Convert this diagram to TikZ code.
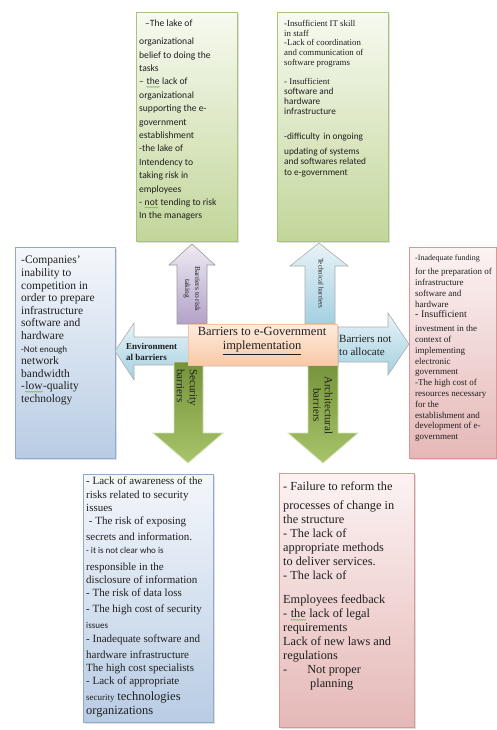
\documentclass[tikz,border=0pt]{standalone}
\usepackage{fontspec}
\setmainfont{Liberation Serif}
\newfontfamily\carl{Carlito}
\usetikzlibrary{shadows,decorations.pathmorphing}

\definecolor{ink}{HTML}{1F1F1F}
\definecolor{gbd}{HTML}{A9C47A}
\definecolor{gbt}{HTML}{F7FAF0}
\definecolor{gbb}{HTML}{C2D69A}
\definecolor{bbd}{HTML}{8EAACC}
\definecolor{bbt}{HTML}{F4F7FB}
\definecolor{bbb}{HTML}{B8CCE4}
\definecolor{pbd}{HTML}{D99694}
\definecolor{pbt}{HTML}{FCF3F3}
\definecolor{pbb}{HTML}{E5B8B7}
\definecolor{cbd}{HTML}{F2C6A4}
\definecolor{cbt}{HTML}{FDEBDD}
\definecolor{cbb}{HTML}{F9C9A6}
\definecolor{pat}{HTML}{EEEAF4}
\definecolor{pab}{HTML}{B3A2C7}
\definecolor{lat}{HTML}{E8F3F8}
\definecolor{lab}{HTML}{A3D0E0}
\definecolor{gat}{HTML}{75933A}
\definecolor{gab}{HTML}{A8C46A}
\definecolor{aedge}{HTML}{9A9A9A}
\definecolor{squig}{HTML}{6FAE4A}

% wavy green proofing underline
\newcommand\sqw[1]{\tikz[baseline=(w.base)]{\node[inner sep=0pt,text=ink](w){#1};
  \draw[squig, line width=0.4pt, decorate, decoration={snake, amplitude=0.5pt, segment length=2pt}]
  ([yshift=-2pt]w.base west) -- ([yshift=-2pt]w.base east);}}

\begin{document}
\begin{tikzpicture}[x=1pt,y=-1pt,
  box/.style={draw, line width=0.6pt, rectangle, inner sep=0pt, anchor=north west,
    drop shadow={shadow xshift=1.2pt, shadow yshift=-1.5pt, opacity=0.25}},
  greenbox/.style={box, draw=gbd, top color=gbt, bottom color=gbb},
  bluebox/.style={box, draw=bbd, top color=bbt, bottom color=bbb},
  pinkbox/.style={box, draw=pbd, top color=pbt, bottom color=pbb},
  centrebox/.style={box, draw=cbd, top color=cbt, bottom color=cbb},
  purplearrow/.style={draw=aedge, line width=0.6pt, top color=pat, bottom color=pab},
  cyanarrow/.style={draw=aedge!80, line width=0.6pt, top color=lat, bottom color=lab},
  greenarrow/.style={draw=gab!50!white, line width=0.8pt, top color=gat, bottom color=gab},
  txt/.style={anchor=north west, align=left, inner sep=0pt, text=ink},
  lbl/.style={inner sep=0pt, text=ink}
]
\useasboundingbox (0,0) rectangle (496,730);
\fill[white] (0,0) rectangle (496,730);

% ---- outer boxes ----
\node[greenbox, minimum width=101pt, minimum height=229pt] (risk) at (136,12) {};
\node[greenbox, minimum width=111pt, minimum height=229pt] (tech) at (277,12) {};
\node[bluebox, minimum width=100pt, minimum height=211pt] (env) at (15,247) {};
\node[pinkbox, minimum width=87pt, minimum height=211pt] (fund) at (409,247) {};
\node[bluebox, minimum width=130pt, minimum height=248pt] (sec) at (83,474) {};
\node[pinkbox, minimum width=135pt, minimum height=254pt] (arch) at (279,473) {};

% ---- block arrows ----
% up: barriers to risk taking
\path[purplearrow] (192,244) -- (215,265) -- (207,265) -- (207,324) -- (177,324)
  -- (177,265) -- (169,265) -- cycle;
% up: technical barriers
\path[cyanarrow] (319,243) -- (348,266) -- (335,266) -- (335,324) -- (305,324)
  -- (305,266) -- (290,266) -- cycle;
% right: barriers not to allocate
\path[cyanarrow] (409,344) -- (388,375) -- (388,362) -- (330,362) -- (330,327)
  -- (388,327) -- (388,313) -- cycle;
% left: environmental barriers
\path[cyanarrow] (115,351) -- (134,323) -- (134,337) -- (192,337) -- (192,365)
  -- (134,365) -- (134,380) -- cycle;
% down: security barriers
\path[greenarrow] (188,463) -- (223,433) -- (203,433) -- (203,362) -- (174,362)
  -- (174,433) -- (153,433) -- cycle;
% down: architectural barriers
\path[greenarrow] (323,463) -- (358,433) -- (338,433) -- (338,362) -- (308,362)
  -- (308,433) -- (288,433) -- cycle;

% ---- centre ----
\node[centrebox, minimum width=149pt, minimum height=41pt] (core) at (188,324) {};
\node[lbl, align=center, font=\fontsize{12.5}{14}\selectfont] (coretxt) at (262,341)
  {Barriers to e-Government\\\underline{implementation}};

% ---- arrow labels ----
\node[lbl, rotate=-90, anchor=west, align=center, font=\fontsize{7.5}{10}\selectfont]
  (risklbl) at (192,266) {Barriers to risk\\taking};
\node[lbl, rotate=-90, anchor=west, font=\fontsize{7}{9}\selectfont]
  (techlbl) at (321,258) {Technical barriers};
\node[lbl, anchor=west, align=left, font=\fontsize{11}{13}\selectfont]
  (alloclbl) at (339,345) {Barriers not\\to allocate};
\node[lbl, anchor=west, align=left, font=\bfseries\fontsize{9}{10.5}\selectfont]
  (envlbl) at (126,352) {Environment\\al barriers};
\node[lbl, rotate=-90, anchor=west, align=left, font=\fontsize{11}{13}\selectfont]
  (seclbl) at (187,369) {Security\\barriers};
\node[lbl, rotate=-90, anchor=west, align=center, font=\fontsize{11}{11.5}\selectfont]
  (archlbl) at (323,376) {Architectural\\barriers};

% ---- box texts ----
\node[txt, font=\carl\fontsize{9.6}{13.4}\selectfont] (risktxt) at (139,20) {%
\hspace{6pt}–The lake of\\[4.5pt]
organizational\\
belief to doing the\\
tasks\\
– \sqw{the} lack of\\
organizational\\
supporting the e-\\
government\\
establishment\\
-the lake of\\
Intendency to\\
taking risk in\\
employees\\
- \sqw{not} tending to risk\\
In the managers};

\node[txt, font=\fontsize{8.8}{9.7}\selectfont] (techtxta) at (284,20) {%
-Insufficient IT skill\\
in staff\\
-Lack of coordination\\
and communication of\\
software programs};
\node[txt, font=\carl\fontsize{9.3}{10}\selectfont] (techtxtb) at (284,78) {%
{\rmfamily\fontsize{8.8}{10}\selectfont - Insufficient}\\
software and\\
hardware\\
infrastructure};
\node[txt, font=\carl\fontsize{9.3}{10.5}\selectfont] (techtxtc) at (284,133) {%
-difficulty\, in ongoing\\[4pt]
updating of systems\\
and softwares related\\
to e-government};

\node[txt, font=\fontsize{11.5}{12.6}\selectfont] (envtxt) at (21,256) {%
-Companies'\\
inability to\\
competition in\\
order to prepare\\
infrastructure\\
software and\\
hardware\\
{\carl\fontsize{9}{10}\selectfont -Not enough}\\
network\\
bandwidth\\
-\sqw{low}-quality\\
technology};

\node[txt, font=\fontsize{9}{10.8}\selectfont] (fundtxt) at (415,255) {%
{\fontsize{8}{10}\selectfont -Inadequate funding}\\[3pt]
for the preparation of\\
infrastructure\\
software and\\
hardware\\
{\fontsize{10}{10}\selectfont - Insufficient}\\[3pt]
investment in the\\
context of\\
implementing\\
electronic\\
government\\
-The high cost of\\
resources necessary\\
for the\\
establishment and\\
development of e-\\
government};

\node[txt, font=\fontsize{11}{13.2}\selectfont] (sectxt) at (86,477) {%
- Lack of awareness of the\\
risks related to security\\
issues\\
\ - The risk of exposing\\[3pt]
secrets and information.\\
{\carl\fontsize{9}{10}\selectfont - it is not clear who is}\\[3pt]
responsible in the\\
disclosure of information\\
- The risk of data loss\\[3pt]
- The high cost of security\\[3pt]
{\carl\fontsize{9}{10}\selectfont issues}\\
- Inadequate software and\\[3pt]
hardware infrastructure\\
The high cost specialists\\
- Lack of appropriate\\[3pt]
{\fontsize{9}{10}\selectfont security} {\fontsize{12.5}{14}\selectfont technologies}\\
{\fontsize{12.5}{14}\selectfont organizations}};

\node[txt, font=\fontsize{12.3}{14}\selectfont] (archtxt) at (283,482) {%
- Failure to reform the\\[5pt]
processes of change in\\
the structure\\
- The lack of\\
appropriate methods\\
to deliver services.\\
- The lack of\\[10pt]
Employees feedback\\
- \sqw{the} lack of legal\\
requirements\\
Lack of new laws and\\
regulations\\
-\hspace{20pt}Not proper\\
\hspace{27pt}planning};
\end{tikzpicture}
\end{document}
